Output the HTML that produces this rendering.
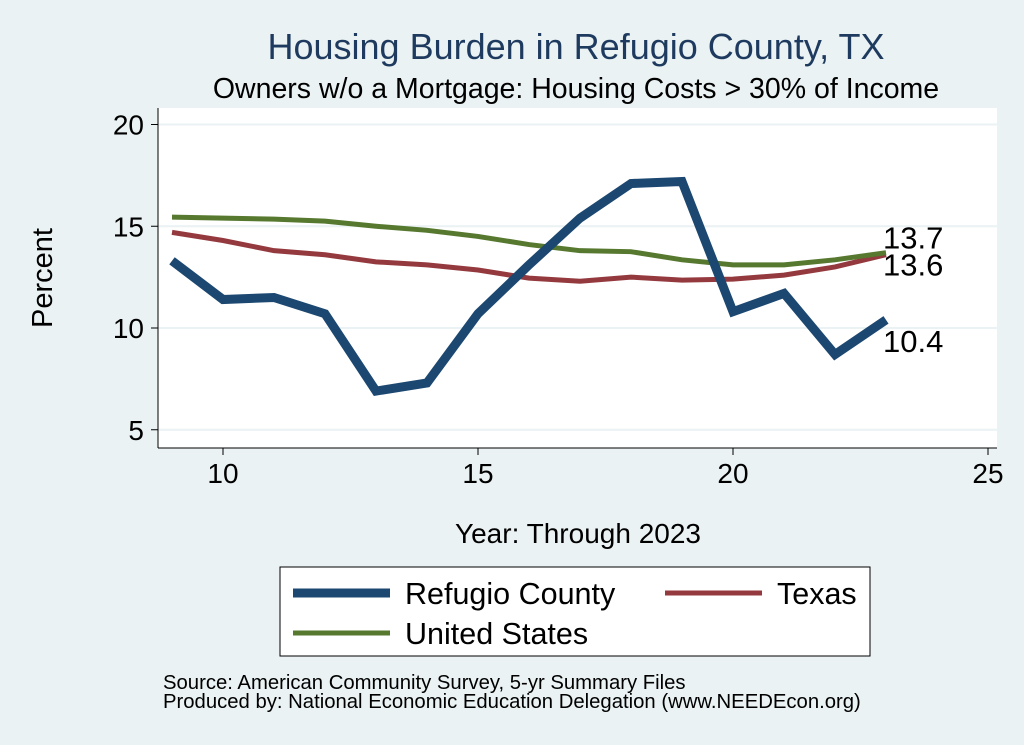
<!DOCTYPE html>
<html><head><meta charset="utf-8"><style>
body{margin:0;background:#eaf2f3;}
svg{display:block;font-family:"Liberation Sans",sans-serif;}
</style></head><body>
<svg id="c" width="1024" height="745">
<rect x="0" y="0" width="1024" height="745" fill="#eaf2f3"/>
<text x="576" y="59" font-size="36" fill="#1e3a5f" text-anchor="middle">Housing Burden in Refugio County, TX</text>
<text x="576" y="98" font-size="28.5" fill="#000" text-anchor="middle">Owners w/o a Mortgage: Housing Costs &gt; 30% of Income</text>
<rect x="158" y="108" width="839" height="340" fill="#fff"/>
<g id="grid"></g><g id="axes"></g><g id="lines"></g>
<text x="52" y="278" font-size="29" text-anchor="middle" transform="rotate(-90 52 278)">Percent</text>
<text x="578" y="543" font-size="28" text-anchor="middle">Year: Through 2023</text>
<g>
<rect x="280" y="567" width="590" height="89" fill="#fff" stroke="#000" stroke-width="1"/>
<line x1="293" y1="593" x2="390" y2="593" stroke="#1b4770" stroke-width="9"/>
<text x="405" y="604" font-size="30.5">Refugio County</text>
<line x1="665" y1="593" x2="762" y2="593" stroke="#943a3e" stroke-width="5"/>
<text x="777" y="604" font-size="30.5">Texas</text>
<line x1="293" y1="633" x2="390" y2="633" stroke="#56782f" stroke-width="5"/>
<text x="405" y="644" font-size="30.5">United States</text>
</g>
<text x="163" y="689" font-size="20.3">Source: American Community Survey, 5-yr Summary Files</text>
<text x="163" y="708" font-size="20.3">Produced by: National Economic Education Delegation (www.NEEDEcon.org)</text>
</svg>
<script>
const years=[9,10,11,12,13,14,15,16,17,18,19,20,21,22,23];
const refugio=[13.3,11.4,11.5,10.7,6.9,7.3,10.7,13.1,15.4,17.1,17.2,10.8,11.7,8.7,10.4];
const texas=[14.7,14.3,13.8,13.6,13.25,13.1,12.85,12.45,12.3,12.5,12.35,12.4,12.6,13.0,13.6];
const us=[15.45,15.4,15.35,15.25,15.0,14.8,14.5,14.1,13.8,13.75,13.35,13.1,13.1,13.35,13.7];
const xTicks=[10,15,20,25];
const yTicks=[5,10,15,20];
const NS="http://www.w3.org/2000/svg";
const X=v=>223+(v-10)*51;
const Y=v=>328-(v-10)*20.35;
function mk(p,t,a){const e=document.createElementNS(NS,t);for(const k in a)e.setAttribute(k,a[k]);p.appendChild(e);return e;}
const grid=document.getElementById('grid'),axes=document.getElementById('axes'),lines=document.getElementById('lines');
mk(axes,'line',{x1:158,y1:108,x2:158,y2:448,stroke:'#000','stroke-width':1});
mk(axes,'line',{x1:158,y1:448,x2:997,y2:448,stroke:'#000','stroke-width':1});
yTicks.forEach(v=>{
 const g=mk(grid,'line',{x1:158,x2:997,y1:Y(v),y2:Y(v),stroke:'#eaf2f3','stroke-width':2});
 
 
 mk(axes,'line',{x1:151,x2:158,y1:Y(v),y2:Y(v),stroke:'#000'});
 const t=mk(axes,'text',{x:144,y:Y(v)+10,'font-size':28,'text-anchor':'end'});t.textContent=v;
 
 
});
xTicks.forEach(v=>{
 mk(axes,'line',{x1:X(v),x2:X(v),y1:448,y2:455,stroke:'#000'});
 const t=mk(axes,'text',{x:X(v),y:483,'font-size':28,'text-anchor':'middle'});t.textContent=v;
 
 
});
function series(arr,col,w,name){
 const p=mk(lines,'polyline',{points:arr.map((v,i)=>X(years[i])+','+Y(v)).join(' '),fill:'none',stroke:col,'stroke-width':w,'stroke-linejoin':'miter'});
 
 
}
series(texas,'#943a3e',5,'texas');
series(us,'#56782f',5,'united-states');
series(refugio,'#1b4770',9,'refugio');
const last=years.length-1;
[[us,'us',-4],[texas,'texas',21],[refugio,'refugio',32]].forEach(([a,n,dy])=>{
 const t=mk(lines,'text',{x:X(years[last])-3,y:Y(a[last])+dy,'font-size':31});t.textContent=a[last].toFixed(1);
 
 
});
</script>
</body></html>
